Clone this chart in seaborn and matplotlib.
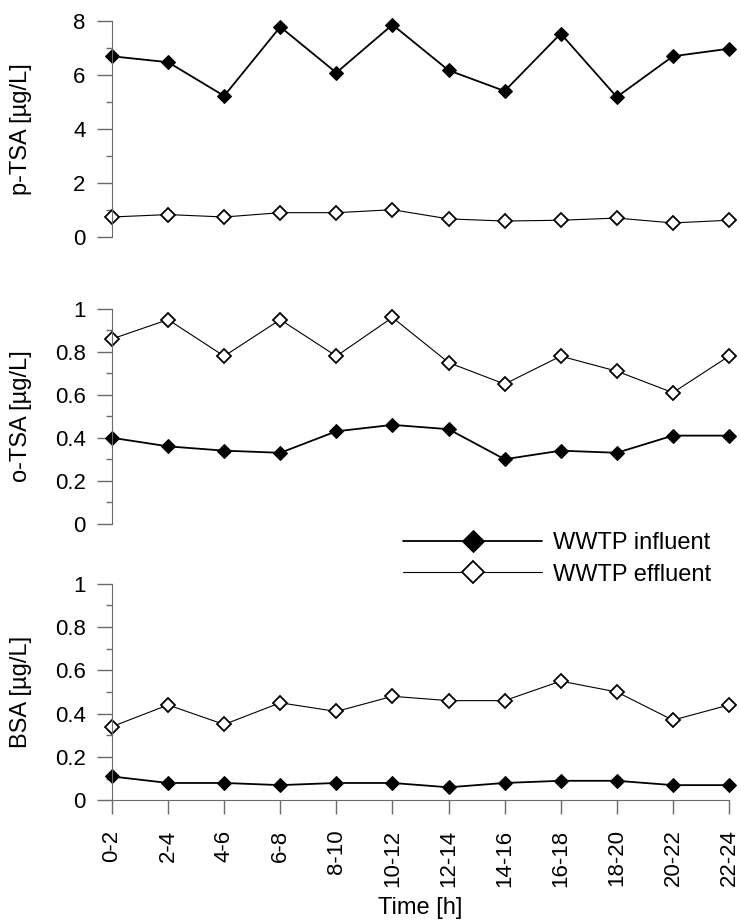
import numpy as np
import pandas as pd
import matplotlib
matplotlib.use('Agg')
import matplotlib.pyplot as plt
import seaborn as sns

# time windows (h)
time_labels = ['0-2', '2-4', '4-6', '6-8', '8-10', '10-12', '12-14',
               '14-16', '16-18', '18-20', '20-22', '22-24']

# concentrations [ug/L]
ptsa_in = [6.70, 6.48, 5.23, 7.79, 6.09, 7.87, 6.18, 5.41, 7.54, 5.19, 6.70, 6.98]
ptsa_eff = [0.74, 0.83, 0.74, 0.90, 0.90, 1.01, 0.67, 0.59, 0.62, 0.70, 0.52, 0.62]
otsa_in = [0.40, 0.36, 0.34, 0.33, 0.43, 0.46, 0.44, 0.30, 0.34, 0.33, 0.41, 0.41]
otsa_eff = [0.86, 0.95, 0.78, 0.95, 0.78, 0.96, 0.75, 0.65, 0.78, 0.71, 0.61, 0.78]
bsa_in = [0.11, 0.08, 0.08, 0.07, 0.08, 0.08, 0.06, 0.08, 0.09, 0.09, 0.07, 0.07]
bsa_eff = [0.34, 0.44, 0.35, 0.45, 0.41, 0.48, 0.46, 0.46, 0.55, 0.50, 0.37, 0.44]

compounds = ['p-TSA', 'o-TSA', 'BSA']
series = ['WWTP influent', 'WWTP effluent']
values = {('p-TSA', 'WWTP influent'): ptsa_in, ('p-TSA', 'WWTP effluent'): ptsa_eff,
          ('o-TSA', 'WWTP influent'): otsa_in, ('o-TSA', 'WWTP effluent'): otsa_eff,
          ('BSA', 'WWTP influent'): bsa_in, ('BSA', 'WWTP effluent'): bsa_eff}

rows = []
for (c, s), v in values.items():
    for i, val in enumerate(v):
        rows.append({'compound': c, 'series': s, 'pos': i, 'value': val})
df = pd.DataFrame(rows)

sns.set_style('white')
plt.rcParams['font.family'] = ['Liberation Sans', 'DejaVu Sans']
plt.rcParams['text.color'] = 'black'
plt.rcParams['axes.labelcolor'] = 'black'
plt.rcParams['xtick.labelcolor'] = 'black'
plt.rcParams['ytick.labelcolor'] = 'black'
fs_tick = 16
fs_lab = 17

fig = plt.figure(figsize=(7.41, 9.22), dpi=100)
# [left, bottom, width, height]
boxes = [[0.1511, 0.743, 0.8327, 0.234],
         [0.1511, 0.432, 0.8327, 0.233],
         [0.1511, 0.132, 0.8327, 0.235]]
ylims = [(0, 8), (0, 1), (0, 1)]
majors = [2, 0.2, 0.2]
minors = [1, 0.1, 0.1]
spine_col = '#6a6a6a'

styles = {'WWTP influent': dict(color='black', lw=1.3, marker='D', ms=7.3,
                                markerfacecolor='black', markeredgecolor='black'),
          'WWTP effluent': dict(color='black', lw=0.8, marker='D', ms=7.3,
                                markerfacecolor='white', markeredgecolor='black',
                                markeredgewidth=1.3)}

axes = []
for k, comp in enumerate(compounds):
    ax = fig.add_axes(boxes[k])
    sub = df[df['compound'] == comp]
    for s in series:
        d = sub[sub['series'] == s]
        sns.lineplot(data=d, x='pos', y='value', ax=ax, label=s, clip_on=False,
                     legend=False, **styles[s])
    ax.set_xlim(0, len(time_labels) - 1)
    ax.set_ylim(*ylims[k])
    major_t = np.arange(0, ylims[k][1] + 1e-9, majors[k])
    ax.set_yticks(major_t)
    ax.set_yticks(np.arange(0, ylims[k][1] + 1e-9, minors[k]), minor=True)
    ax.set_yticklabels([('%g' % t) for t in major_t])
    ax.tick_params(axis='y', which='major', direction='out', length=11, width=1,
                   color=spine_col, left=True, labelsize=fs_tick, pad=8,
                   labelcolor='black')
    ax.tick_params(axis='y', which='minor', direction='out', length=4.5, width=1,
                   color=spine_col, left=True)
    ax.set_ylabel(comp + ' [µg/L]', fontsize=fs_lab, color='black')
    ax.yaxis.set_label_coords(-0.129, 0.5)
    for sp in ['top', 'right']:
        ax.spines[sp].set_visible(False)
    ax.spines['left'].set_color(spine_col)
    ax.spines['bottom'].set_color(spine_col)
    if k < 2:
        ax.spines['bottom'].set_visible(False)
        ax.set_xticks([])
        ax.set_xlabel('')
    else:
        ax.set_xticks(range(len(time_labels)))
        ax.set_xticklabels(time_labels, rotation=90)
        ax.tick_params(axis='x', direction='out', length=10, width=1,
                       color=spine_col, bottom=True, labelsize=fs_tick, pad=11,
                       labelcolor='black')
        ax.set_xlabel('Time [h]', fontsize=fs_lab, color='black')
        ax.xaxis.set_label_coords(0.5, -0.447)
    axes.append(ax)

handles = [axes[2].lines[0], axes[2].lines[1]]
leg = fig.legend(handles, series, loc='center left', bbox_to_anchor=(0.544, 0.394),
                 frameon=False, handlelength=5.9, handletextpad=0.45, markerscale=1.5,
                 labelspacing=0.42, borderpad=0, borderaxespad=0, fontsize=fs_lab)
for t in leg.get_texts():
    t.set_color('black')

fig.savefig('out.png', dpi=100)
